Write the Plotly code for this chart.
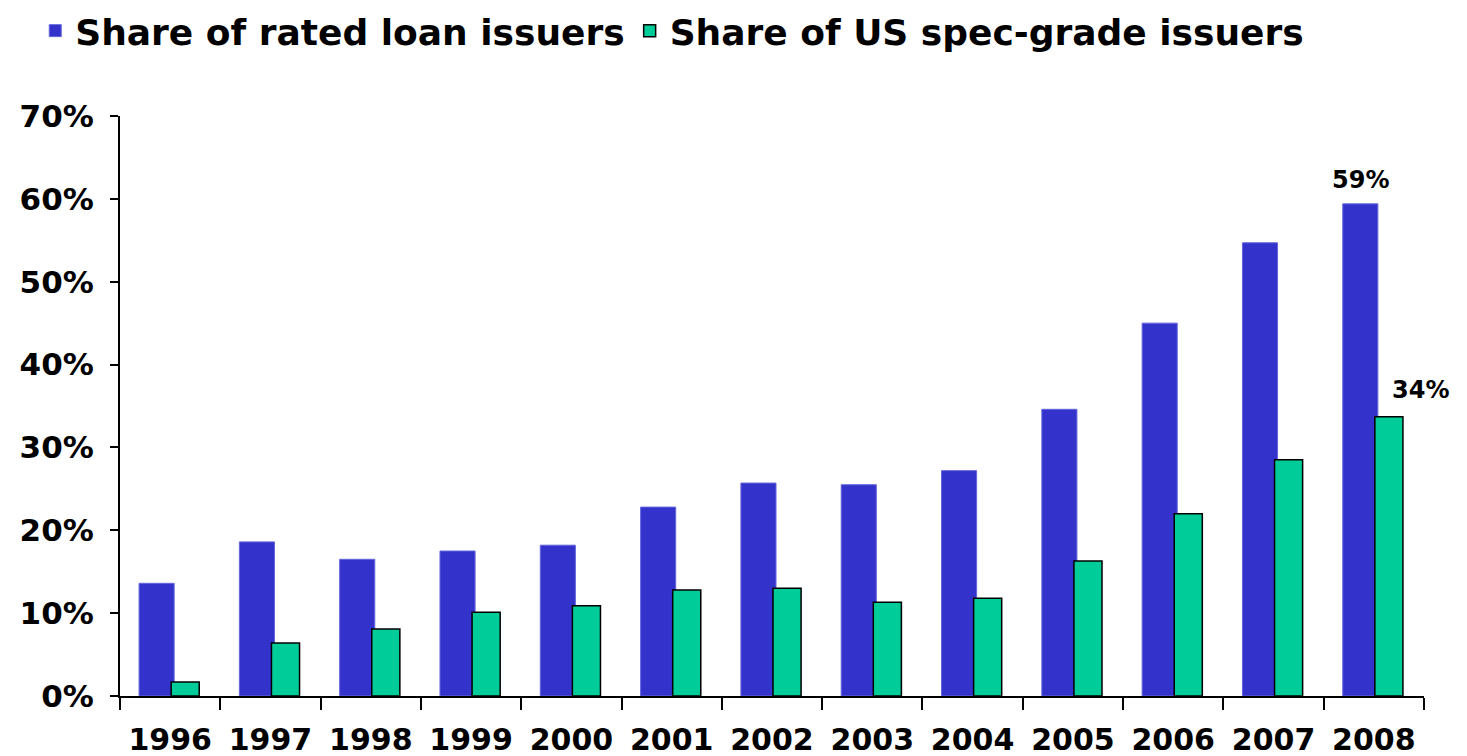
import plotly.graph_objects as go

years = ["1996", "1997", "1998", "1999", "2000", "2001", "2002",
         "2003", "2004", "2005", "2006", "2007", "2008"]
rated_loan = [13.6, 18.6, 16.5, 17.5, 18.2, 22.8, 25.7, 25.5, 27.2, 34.6, 45.0, 54.7, 59.4]
spec_grade = [1.7, 6.4, 8.1, 10.1, 10.9, 12.8, 13.0, 11.3, 11.8, 16.3, 22.0, 28.5, 33.7]
y_ticks = [0, 10, 20, 30, 40, 50, 60, 70]
y_labels = [f"{v}%" for v in y_ticks]

FONT = "DejaVu Sans"

fig = go.Figure()
fig.add_trace(go.Bar(
    x=years, y=rated_loan, name="Share of rated loan issuers",
    marker=dict(color="#3333CC", line=dict(color="#6666DD", width=1)),
    width=0.35, offset=-0.31,
))
fig.add_trace(go.Bar(
    x=years, y=spec_grade, name="Share of US spec-grade issuers",
    marker=dict(color="#00CC99", line=dict(color="black", width=1.5)),
    width=0.28, offset=0.01,
))

fig.add_annotation(x=12 - 0.135, y=rated_loan[-1], text="<b>59%</b>", showarrow=False,
                   yanchor="bottom", yshift=8, font=dict(family=FONT, size=24, color="black"))
fig.add_annotation(x=12 + 0.15, y=spec_grade[-1], text="<b>34%</b>", showarrow=False,
                   yanchor="bottom", yshift=11, xshift=32, font=dict(family=FONT, size=24, color="black"))

# page body has an 8px margin, so margins are offset by 8px
fig.update_layout(
    width=1467, height=756,
    margin=dict(l=112, r=51, t=108, b=68, autoexpand=False),
    plot_bgcolor="white", paper_bgcolor="white",
    barmode="overlay",
    showlegend=True,
    legend=dict(orientation="h", x=-0.065, y=1.147, xref="paper", yref="paper",
                xanchor="left", yanchor="middle",
                font=dict(family=FONT, size=36, color="black", weight="bold"),
                itemwidth=30, traceorder="normal"),
    font=dict(family=FONT, color="black"),
)
fig.update_xaxes(
    type="category", showline=True, linecolor="black", linewidth=2,
    ticks="outside", tickson="boundaries", ticklen=12, tickwidth=2, tickcolor="black",
    tickfont=dict(family=FONT, size=30, color="black", weight="bold"),
    ticklabelstandoff=16, showgrid=False, range=[-0.5, 12.5],
)
fig.update_yaxes(
    range=[0, 70], tickvals=y_ticks, ticktext=y_labels,
    showline=True, linecolor="black", linewidth=2,
    ticks="outside", ticklen=8, tickwidth=2, tickcolor="black",
    tickfont=dict(family=FONT, size=31, color="black", weight="bold"),
    ticklabelstandoff=10, showgrid=False, zeroline=False,
)

fig.write_html("out.html")
